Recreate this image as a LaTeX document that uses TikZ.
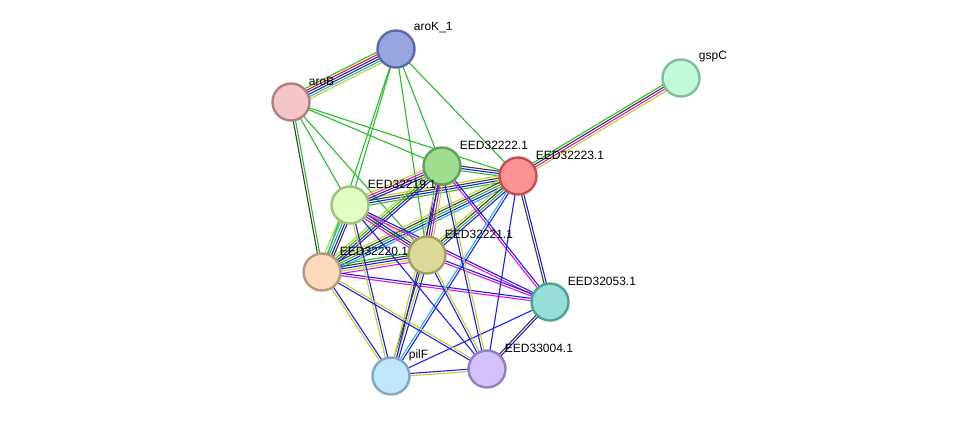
\documentclass[tikz,border=0pt]{standalone}
\usepackage{fontspec}
\setmainfont{Liberation Sans}
\usetikzlibrary{calc,backgrounds}

% evidence colours
\definecolor{evgreen}{RGB}{40,190,40}
\definecolor{evred}{RGB}{250,20,20}
\definecolor{evblue}{RGB}{30,30,240}
\definecolor{evblack}{RGB}{60,60,60}
\definecolor{evcyan}{RGB}{40,180,230}
\definecolor{evmag}{RGB}{230,20,230}
\definecolor{evyel}{RGB}{190,210,40}

% one edge = several parallel lines, one per evidence colour
\newcommand{\link}[3]{%
  \foreach \c [count=\n] in {#3} {\xdef\nlines{\n}}%
  \foreach \c [count=\i] in {#3} {%
    \pgfmathsetmacro{\off}{(\i-(\nlines+1)/2)*2.3}%
    \draw[\c, line width=1.1pt] ($(#1)!\off pt!90:(#2)$) -- ($(#2)!\off pt!-90:(#1)$);
  }%
}

\begin{document}
\begin{tikzpicture}[x=1pt,y=-1pt,
  every node/.style={font=\fontsize{12}{14}\selectfont},
  prot/.style={circle,minimum size=37pt,inner sep=0pt,line width=2.4pt},
  lbl/.style={inner sep=0pt,label distance=-2pt,yshift=21pt}
]
  \useasboundingbox (0,0) rectangle (976,421);

  \node[prot,draw={rgb,255:red,90;green,106;blue,168},fill={rgb,255:red,153;green,165;blue,224},label={[lbl]right:aroK\_1}] (aroK) at (396,49) {};
  \node[prot,draw={rgb,255:red,176;green,128;blue,128},fill={rgb,255:red,246;green,198;blue,198},label={[lbl]right:aroB}] (aroB) at (291,102) {};
  \node[prot,draw={rgb,255:red,127;green,191;blue,154},fill={rgb,255:red,194;green,250;blue,216},label={[lbl]right:gspC}] (gspC) at (681,78) {};
  \node[prot,draw={rgb,255:red,95;green,160;blue,90},fill={rgb,255:red,158;green,222;blue,142},label={[lbl]right:EED32222.1}] (e222) at (442,166) {};
  \node[prot,draw={rgb,255:red,192;green,80;blue,80},fill={rgb,255:red,253;green,144;blue,144},label={[lbl]right:EED32223.1}] (e223) at (518,176) {};
  \node[prot,draw={rgb,255:red,160;green,192;blue,128},fill={rgb,255:red,224;green,255;blue,192},label={[lbl]right:EED32219.1}] (e219) at (350,205) {};
  \node[prot,draw={rgb,255:red,184;green,152;blue,122},fill={rgb,255:red,252;green,217;blue,184},label={[lbl]right:EED32220.1}] (e220) at (322,272) {};
  \node[prot,draw={rgb,255:red,160;green,160;blue,96},fill={rgb,255:red,220;green,216;blue,152},label={[lbl]right:EED32221.1}] (e221) at (427,255) {};
  \node[prot,draw={rgb,255:red,80;green,160;blue,150},fill={rgb,255:red,150;green,222;blue,214},label={[lbl]right:EED32053.1}] (e053) at (550,302) {};
  \node[prot,draw={rgb,255:red,144;green,128;blue,192},fill={rgb,255:red,212;green,192;blue,252},label={[lbl]right:EED33004.1}] (e004) at (487,369) {};
  \node[prot,draw={rgb,255:red,128;green,168;blue,192},fill={rgb,255:red,192;green,230;blue,252},label={[lbl]right:pilF}] (pilF) at (391,376) {};

  \begin{pgfonlayer}{background}
    \fill[white] (0,0) rectangle (976,421);
    \link{aroK}{aroB}{evgreen,evred,evblue,evblack,evcyan,evyel}
    \link{aroK}{e219}{evgreen}
    \link{aroK}{e220}{evgreen}
    \link{aroK}{e222}{evgreen}
    \link{aroK}{e221}{evgreen}
    \link{aroK}{e223}{evgreen}
    \link{aroB}{e220}{evblack,evgreen}
    \link{aroB}{e219}{evgreen}
    \link{aroB}{e221}{evgreen}
    \link{aroB}{e222}{evgreen}
    \link{aroB}{e223}{evgreen}
    \link{gspC}{e223}{evgreen,evblack,evmag,evyel}
    \link{e222}{e223}{evgreen,evblue,evblack}
    \link{e223}{e219}{evyel,evblack,evblue,evgreen}
    \link{e223}{e220}{evyel,evblack,evgreen,evblue,evcyan}
    \link{e223}{e221}{evyel,evblack,evgreen,evblue}
    \link{e222}{e219}{evyel,evmag,evblack,evblue}
    \link{e222}{e220}{evyel,evgreen,evblack,evblue}
    \link{e222}{e221}{evblue,evblack,evmag,evyel}
    \link{e219}{e220}{evyel,evcyan,evgreen,evblue,evblack}
    \link{e219}{e221}{evmag,evblack,evblue,evyel}
    \link{e220}{e221}{evmag,evyel,evblue,evblack,evgreen}
    \link{e219}{e053}{evmag,evblue}
    \link{e220}{e053}{evmag,evblue}
    \link{e221}{e053}{evmag,evblue}
    \link{e222}{e053}{evmag,evblue}
    \link{e223}{e053}{evblack,evblue}
    \link{e053}{e004}{evblack,evblue}
    \link{e053}{pilF}{evblue}
    \link{pilF}{e004}{evyel,evblue}
    \link{pilF}{e219}{evblue,evyel}
    \link{pilF}{e220}{evblue,evyel}
    \link{pilF}{e221}{evblue,evyel,evblack}
    \link{pilF}{e222}{evblue,evyel}
    \link{pilF}{e223}{evblue,evcyan}
    \link{e004}{e219}{evblue}
    \link{e004}{e220}{evyel,evblue}
    \link{e004}{e221}{evyel,evblue}
    \link{e004}{e222}{evyel,evblue}
    \link{e004}{e223}{evblue}
  \end{pgfonlayer}
\end{tikzpicture}
\end{document}
